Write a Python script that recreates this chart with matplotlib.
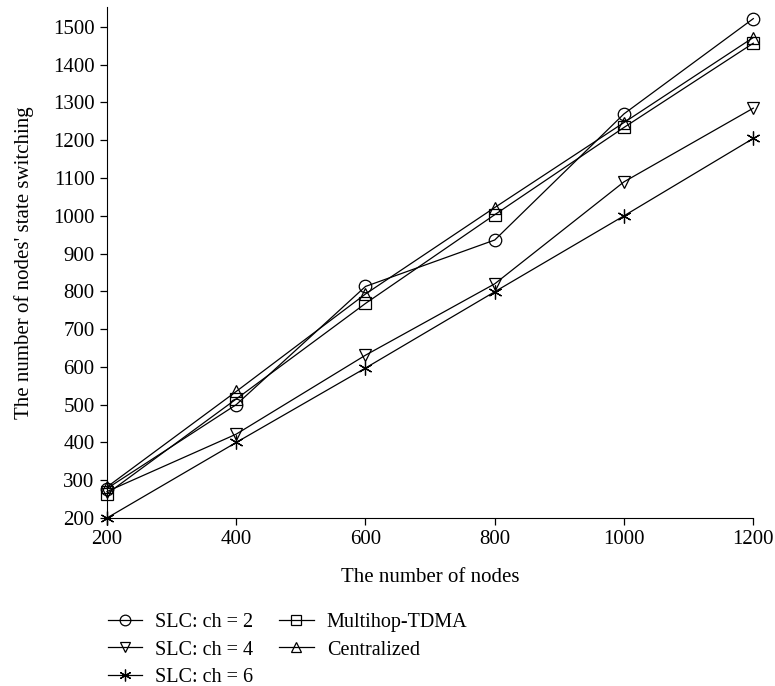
import matplotlib
matplotlib.use("Agg")
import matplotlib.pyplot as plt

plt.rcParams['font.family'] = ['Liberation Serif', 'DejaVu Serif']

nodes = [200, 400, 600, 800, 1000, 1200]
slc_ch2 = [278, 500, 813, 936, 1270, 1522]
slc_ch4 = [270, 422, 631, 820, 1090, 1285]
slc_ch6 = [200, 400, 597, 799, 1000, 1205]
multihop = [264, 515, 768, 1003, 1234, 1457]
centralized = [282, 535, 793, 1022, 1247, 1472]

labels = ["SLC: ch = 2", "SLC: ch = 4", "SLC: ch = 6", "Multihop-TDMA", "Centralized"]
series = [slc_ch2, slc_ch4, slc_ch6, multihop, centralized]
markers = ["o", "v", (6, 2, 0), "s", "^"]

fig = plt.figure(figsize=(7.75, 6.86), dpi=100)
ax = fig.add_axes([0.138, 0.2449, 0.834, 0.745])

for y, m, lab in zip(series, markers, labels):
    if m == (6, 2, 0):
        ax.plot(nodes, y, color="black", lw=0.9, marker=m, ms=10,
                mew=0.9, label=lab, clip_on=False)
    else:
        ax.plot(nodes, y, color="black", lw=0.9, marker=m, ms=9,
                mfc="none", mec="black", mew=0.9, label=lab, clip_on=False)

ax.set_xlim(200, 1200)
ax.set_ylim(200, 1553)
ax.set_xticks(nodes)
ax.set_yticks(range(200, 1501, 100))
ax.spines['top'].set_visible(False)
ax.spines['right'].set_visible(False)
ax.tick_params(direction="out", length=5, width=0.9, labelsize=15, pad=4)
ax.set_xlabel("The number of nodes", fontsize=15)
ax.set_ylabel("The number of nodes' state switching", fontsize=15)
ax.yaxis.set_label_coords(-0.113, 0.5)
ax.xaxis.set_label_coords(0.5, -0.098)

fig.legend(loc="upper left", bbox_to_anchor=(0.139, 0.106), ncol=2,
           frameon=False, fontsize=14.5, handlelength=1.7, handletextpad=0.65,
           columnspacing=1.3, labelspacing=0.4, borderpad=0, borderaxespad=0,
           markerscale=0.85)

fig.savefig("out.png", dpi=100)
